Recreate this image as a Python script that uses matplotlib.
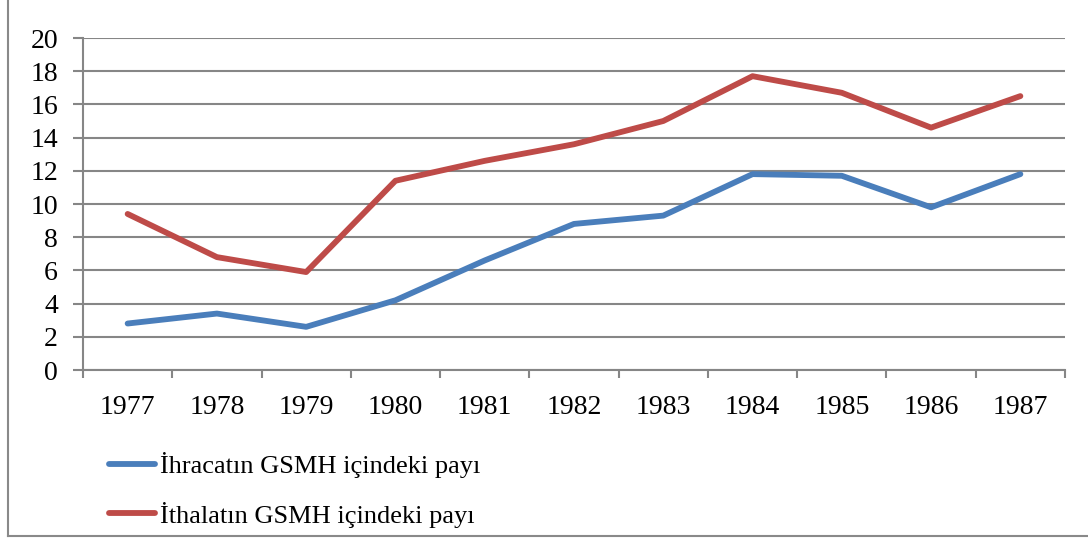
import matplotlib.pyplot as plt
from matplotlib.lines import Line2D

years = ['1977', '1978', '1979', '1980', '1981', '1982', '1983', '1984', '1985', '1986', '1987']
ihracat = [2.8, 3.4, 2.6, 4.2, 6.6, 8.8, 9.3, 11.8, 11.7, 9.8, 11.8]
ithalat = [9.4, 6.8, 5.9, 11.4, 12.6, 13.6, 15.0, 17.7, 16.7, 14.6, 16.5]
labels = ['İhracatın GSMH içindeki payı', 'İthalatın GSMH içindeki payı']

plt.rcParams['font.family'] = ['Liberation Serif', 'DejaVu Serif']

fig = plt.figure(figsize=(10.88, 5.38), dpi=100)
ax = fig.add_axes([83 / 1088, 1 - 370 / 538, (1065 - 83) / 1088, (370 - 38) / 538])

grid_color = '#868686'
x = list(range(len(years)))
ax.plot(x, ihracat, color='#4A7EBB', lw=4.2, solid_capstyle='round', label=labels[0], zorder=3)
ax.plot(x, ithalat, color='#BE4B48', lw=4.2, solid_capstyle='round', label=labels[1], zorder=3)

ax.set_xlim(-0.5, len(years) - 0.5)
ax.set_ylim(0, 20)
ax.set_yticks(range(0, 21, 2))
ax.set_xticks(x)
ax.set_xticklabels(years)
ax.set_xticks([i - 0.5 for i in range(len(years) + 1)], minor=True)
ax.tick_params(axis='x', which='major', length=0, pad=18, labelsize=20)
ax.tick_params(axis='x', which='minor', length=6, width=1.5, color=grid_color)
ax.tick_params(axis='y', length=7, width=1.5, color=grid_color, labelsize=20, pad=11)
ax.yaxis.grid(True, color=grid_color, lw=1.5)
ax.set_axisbelow(True)
for s in ['top', 'right']:
    ax.spines[s].set_visible(False)
for s in ['left', 'bottom']:
    ax.spines[s].set_color(grid_color)
    ax.spines[s].set_linewidth(1.5)

fig.legend(loc='upper left', bbox_to_anchor=(85 / 1088, 1 - 428 / 538), frameon=False,
           fontsize=19, handlelength=1.75, handletextpad=0.2, labelspacing=0.9)

# outer frame (left and bottom edges only)
fc = '#898989'
fig.add_artist(Line2D([8 / 1088, 8 / 1088], [0.003, 1], color=fc, lw=1.5, transform=fig.transFigure))
fig.add_artist(Line2D([8 / 1088, 1], [0.003, 0.003], color=fc, lw=1.5, transform=fig.transFigure))

fig.savefig('out.png', dpi=100)
